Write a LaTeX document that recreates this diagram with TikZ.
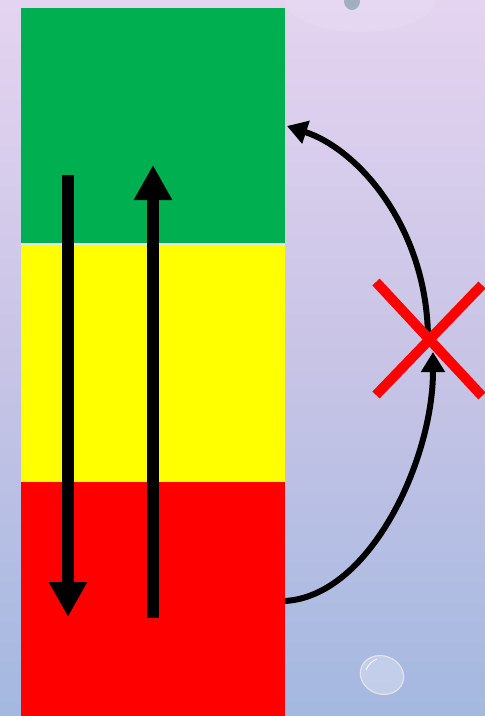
\documentclass[tikz,border=0pt]{standalone}
\usetikzlibrary{arrows.meta}
\definecolor{bgtop}{HTML}{E4D4F0}
\definecolor{bgmid}{HTML}{C8C4E6}
\definecolor{bgbot}{HTML}{A4B8E0}
\definecolor{bandgreen}{HTML}{00B050}
\definecolor{bandyellow}{HTML}{FFFF00}
\definecolor{bandred}{HTML}{FF0000}
\tikzset{
  band/.style={draw=none, minimum width=264pt, inner sep=0pt, outer sep=0pt, anchor=north west},
  bigarrow/.style={line width=12pt, -{Triangle[length=35pt, width=36pt]}},
  curvearrow/.style={line width=6pt, -{Triangle[length=20pt, width=23pt]}},
  crossline/.style={draw=bandred, line width=10pt}
}
\begin{document}
\begin{tikzpicture}[x=1pt, y=-1pt]
\useasboundingbox (0,0) rectangle (485,716);
% background
\shade[top color=bgtop, bottom color=bgbot, middle color=bgmid] (0,0) rectangle (485,716);
% faint droplet at top
\fill[white, opacity=0.10] (360,0) ellipse (75 and 32);
\fill[teal!40!gray, opacity=0.45] (352,1) ellipse (8 and 9);
% glass droplet at bottom
\fill[white, opacity=0.30, rotate around={-20:(382,675)}] (382,675) ellipse (22 and 19);
\draw[white!80!gray, line width=1.2pt, rotate around={-20:(382,675)}] (382,675) ellipse (22 and 19);
\draw[white, line width=1pt, opacity=0.8] (366,670) arc[start angle=200, end angle=250, radius=18];
% bands
\node[band, fill=bandgreen, minimum height=235pt] (green) at (21,8) {};
\fill[gray!20] (21,243) rectangle (285,245);
\node[band, fill=bandyellow, minimum height=237pt] (yellow) at (21,245) {};
\node[band, fill=bandred, minimum height=234pt] (red) at (21,482) {};
% vertical arrows
\coordinate (dstart) at (68,175);
\coordinate (dend) at (68,617);
\coordinate (ustart) at (153,618);
\coordinate (uend) at (153,165);
\draw[bigarrow] (dstart) -- (dend);
\draw[bigarrow] (ustart) -- (uend);
% curved arrows
\coordinate (cstart) at (285,601);
\coordinate (cmid) at (433,352);
\coordinate (cmid2) at (428,340);
\coordinate (cend) at (287,126);
\draw[curvearrow] (cstart) .. controls (370,596) and (433,460) .. (cmid);
\draw[curvearrow] (cmid2) .. controls (428,230) and (360,150) .. (cend);
% red cross
\coordinate (x1) at (376,282);
\coordinate (x2) at (482,396);
\coordinate (x3) at (482,285);
\coordinate (x4) at (376,395);
\draw[crossline] (x1) -- (x2);
\draw[crossline] (x3) -- (x4);
\end{tikzpicture}
\end{document}
